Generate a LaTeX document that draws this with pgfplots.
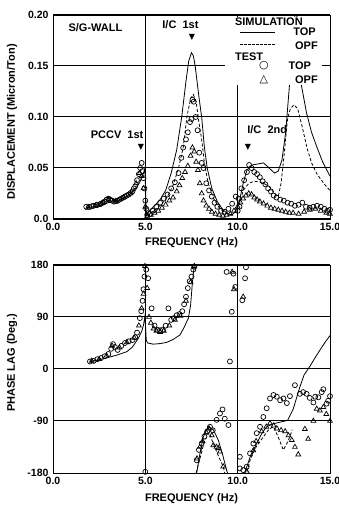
\documentclass[border=0pt]{standalone}
\usepackage{fontspec}
\setmainfont{Liberation Sans}
\newfontfamily\symfont{DejaVu Sans}
\usepackage{pgfplots}
\pgfplotsset{compat=1.18}
\pgfplotsset{
  common/.style={
    scale only axis, width=277pt, xmin=0, xmax=15,
    xtick={0,5,10,15}, xticklabels={0.0,5.0,10.0,15.0},
    grid=major, major grid style={black, line width=1.0pt},
    axis line style={line width=0.9pt},
    major tick length=0pt,
    tick label style={font=\fontsize{10.5}{12}\selectfont\bfseries},
    label style={font=\fontsize{11}{13}\selectfont\bfseries},
    /pgf/number format/assume math mode=true,
    xticklabel style={yshift=-1pt},
    yticklabel style={xshift=-1pt},
  },
  tmark/.style={only marks, mark=o, mark size=2.5pt, mark options={line width=0.7pt, draw=black}},
  omark/.style={only marks, mark=triangle, mark size=2.8pt, mark options={line width=0.7pt, draw=black}},
  sims/.style={black, line width=0.8pt, no marks},
  simd/.style={black, line width=0.8pt, dashed, dash pattern=on 3pt off 2pt, no marks},
}
\begin{document}
\begin{tikzpicture}
\useasboundingbox (0,0) rectangle (339pt,508pt);
% ---------------- displacement ----------------
\begin{axis}[common, at={(53pt,289pt)}, anchor=south west, height=204pt,
  ymin=0, ymax=0.2, ytick={0,0.05,0.10,0.15,0.20},
  yticklabels={0.0,0.05,0.10,0.15,0.20},
  xlabel={FREQUENCY (Hz)}, ylabel={DISPLACEMENT (Micron/Ton)},
  xlabel style={at={(axis description cs:0.5,0)}, anchor=center, yshift=-24pt},
  ylabel style={at={(axis description cs:-0.148,0.475)}, anchor=center},
]
\addplot[sims] coordinates {
(1.8,0.011)(2.5,0.013)(3.0,0.016)(3.5,0.018)(4.0,0.022)(4.4,0.028)(4.7,0.036)(4.9,0.045)(4.98,0.05)
(5.05,0.004)(5.2,0.008)(5.5,0.013)(5.8,0.019)(6.1,0.028)(6.4,0.045)(6.7,0.068)(6.97,0.10)(7.2,0.135)
(7.35,0.155)(7.5,0.163)(7.6,0.16)(7.7,0.15)(7.9,0.12)(8.05,0.10)(8.2,0.07)(8.35,0.05)(8.6,0.03)
(8.9,0.017)(9.2,0.009)(9.5,0.005)(9.7,0.004)(9.9,0.008)(10.1,0.018)(10.3,0.035)(10.5,0.048)
(10.8,0.053)(11.1,0.054)(11.4,0.055)(11.7,0.05)(12.0,0.045)(12.2,0.047)(12.4,0.058)(12.6,0.085)
(12.8,0.13)(13.0,0.18)(13.15,0.21)(13.3,0.18)(13.4,0.136)(13.73,0.104)(14.0,0.085)(14.28,0.071)
(14.6,0.056)(15.0,0.042)};
\addplot[simd] coordinates {
(5.05,0.003)(5.3,0.006)(5.6,0.01)(5.9,0.015)(6.2,0.022)(6.5,0.033)(6.8,0.05)(7.05,0.07)(7.25,0.1)
(7.45,0.118)(7.6,0.122)(7.75,0.115)(7.9,0.095)(8.05,0.078)(8.2,0.055)(8.4,0.035)(8.7,0.02)(9.0,0.011)
(9.3,0.006)(9.6,0.004)(9.9,0.007)(10.1,0.015)(10.3,0.028)(10.6,0.035)(10.9,0.037)(11.3,0.036)
(11.7,0.032)(12.0,0.025)(12.2,0.022)(12.35,0.035)(12.5,0.06)(12.7,0.098)(12.85,0.108)(13.05,0.112)
(13.25,0.108)(13.5,0.09)(13.75,0.07)(14.0,0.055)(14.3,0.044)(14.7,0.034)(15.0,0.028)};
\addplot[tmark] coordinates {
(1.8,0.012)(1.95,0.012)(2.1,0.0125)(2.2,0.013)(2.35,0.0135)(2.4,0.014)(2.55,0.0145)(2.6,0.015)(2.7,0.016)(2.8,0.017)(2.9,0.019)(3.0,0.02)(3.1,0.019)(3.2,0.018)(3.3,0.017)
(3.4,0.0175)(3.5,0.018)(3.6,0.019)(3.7,0.02)(3.8,0.021)(3.9,0.022)(4.0,0.023)(4.1,0.024)(4.2,0.0255)(4.3,0.027)(4.38,0.03)(4.45,0.032)(4.55,0.038)(4.65,0.044)(4.72,0.05)
(4.8,0.055)(4.85,0.047)(4.9,0.04)(4.95,0.03)(5.0,0.018)(5.05,0.01)(5.1,0.004)(5.25,0.005)(5.4,0.008)
(5.6,0.012)(5.8,0.016)(6.0,0.02)(6.2,0.024)(6.4,0.03)(6.6,0.036)(6.8,0.045)(6.95,0.06)(7.05,0.07)
(7.2,0.078)(7.3,0.085)(7.42,0.095)(7.5,0.098)(7.55,0.117)(7.62,0.115)(7.72,0.1)(7.83,0.087)
(7.92,0.065)(8.05,0.055)(8.15,0.05)(8.3,0.035)(8.45,0.028)(8.6,0.022)(8.75,0.016)(8.9,0.012)
(9.1,0.008)(9.3,0.007)(9.5,0.01)(9.7,0.015)(9.9,0.022)(10.0,0.008)(10.1,0.012)(10.05,0.02)(10.2,0.03)
(10.35,0.038)(10.5,0.046)(10.62,0.053)(10.75,0.05)(10.9,0.046)(11.05,0.044)(11.2,0.041)(11.35,0.037)
(11.5,0.034)(11.65,0.03)(11.8,0.027)(11.95,0.023)(12.1,0.021)(12.3,0.019)(12.5,0.018)(12.7,0.016)
(12.9,0.015)(13.1,0.013)(13.3,0.014)(13.5,0.016)(13.7,0.012)(13.9,0.011)(14.1,0.012)(14.3,0.013)
(14.5,0.012)(14.7,0.01)(14.85,0.008)(15.0,0.009)};
\addplot[omark] coordinates {
(1.9,0.011)(2.3,0.013)(2.7,0.016)(3.0,0.019)(3.4,0.017)(3.8,0.021)(4.2,0.025)(4.5,0.035)(4.7,0.045)
(4.8,0.042)(4.9,0.03)(5.0,0.012)(5.1,0.003)(5.3,0.004)(5.5,0.006)(5.7,0.008)(5.9,0.011)(6.1,0.014)
(6.3,0.018)(6.5,0.021)(6.7,0.027)(6.85,0.033)(7.0,0.04)(7.15,0.046)(7.3,0.052)(7.45,0.062)(7.55,0.07)
(7.65,0.066)(7.75,0.056)(7.85,0.048)(7.95,0.035)(8.05,0.025)(8.15,0.018)(8.3,0.013)(8.45,0.01)
(8.6,0.007)(8.8,0.005)(9.0,0.004)(9.2,0.003)(9.4,0.004)(9.6,0.005)(9.8,0.008)(10.0,0.012)(10.15,0.016)
(10.3,0.02)(10.45,0.023)(10.6,0.025)(10.75,0.024)(10.9,0.021)(11.05,0.019)(11.2,0.017)(11.4,0.015)
(11.6,0.013)(11.8,0.011)(12.0,0.01)(12.2,0.009)(12.4,0.008)(12.6,0.007)(12.8,0.006)(13.0,0.006)
(13.3,0.005)(13.6,0.007)(13.9,0.009)(14.2,0.01)(14.5,0.008)(14.8,0.006)(15.0,0.005)};
% legend box
\fill[white] (axis cs:9.3,0.131) rectangle (axis cs:14.56,0.1985);
\begin{scope}[font=\fontsize{11}{13}\selectfont\bfseries]
\node[anchor=west, inner sep=0pt] at (axis cs:9.85,0.1935) {SIMULATION};
\draw[line width=0.8pt] (axis cs:10.12,0.183) -- (axis cs:12.02,0.183);
\node[anchor=west, inner sep=0pt] at (axis cs:13.0,0.184) {TOP};
\draw[line width=0.8pt, dash pattern=on 3pt off 1pt] (axis cs:10.12,0.1715) -- (axis cs:12.02,0.1715);
\node[anchor=west, inner sep=0pt] at (axis cs:13.1,0.17) {OPF};
\node[anchor=west, inner sep=0pt] at (axis cs:9.85,0.159) {TEST};
\node at (axis cs:11.42,0.150) {\symfont ○};
\node[anchor=west, inner sep=0pt] at (axis cs:12.75,0.150) {TOP};
\node at (axis cs:11.42,0.1365) {\symfont △};
\node[anchor=west, inner sep=0pt] at (axis cs:13.1,0.1365) {OPF};
\node at (axis cs:2.3,0.188) {S/G-WALL};
\node at (axis cs:6.9,0.191) {I/C\ \ 1st};
\node at (axis cs:7.53,0.178) {\symfont\fontsize{8}{9}\selectfont ▼};
\node at (axis cs:3.47,0.0826) {PCCV\ \ 1st};
\node at (axis cs:4.76,0.070) {\symfont\fontsize{8}{9}\selectfont ▼};
\node at (axis cs:11.6,0.0874) {I/C\ \ 2nd};
\node at (axis cs:10.56,0.070) {\symfont\fontsize{8}{9}\selectfont ▼};
\end{scope}
\end{axis}
% ---------------- phase ----------------
\begin{axis}[common, at={(53pt,35pt)}, anchor=south west, height=208pt,
  ymin=-180, ymax=180, ytick={-180,-90,0,90,180},
  yticklabels={-180,-90,0,90,180},
  xlabel={FREQUENCY (Hz)}, ylabel={PHASE LAG (Deg.)},
  xlabel style={at={(axis description cs:0.5,0)}, anchor=center, yshift=-26pt},
  ylabel style={at={(axis description cs:-0.148,0.53)}, anchor=center},
]
\addplot[sims] coordinates {
(2.0,13)(2.5,16)(3.0,20)(3.45,24)(4.0,30)(4.3,38)(4.62,53)(4.8,65)(4.9,76)(4.98,92)(5.05,50)(5.12,45)
(5.43,43)(5.8,44)(6.15,46)(6.5,51)(6.88,59)(7.1,72)(7.33,88)(7.45,110)(7.55,150)(7.65,180)};
\addplot[sims] coordinates {
(7.78,-180)(7.96,-146)(8.14,-117)(8.41,-100)(8.68,-105)(8.95,-123)(9.2,-150)(9.4,-175)(9.45,-180)};
\addplot[sims] coordinates {
(10.38,-180)(10.7,-150)(11.03,-129)(11.3,-112)(11.57,-100)(11.9,-95)(12.3,-92)(12.7,-89)(13.0,-70)
(13.37,-31)(13.6,-10)(13.9,4)(14.2,20)(14.46,33)(14.75,47)(15,58)};
\addplot[simd] coordinates {
(7.75,-180)(8.0,-150)(8.2,-125)(8.45,-110)(8.68,-129)(8.95,-150)(9.22,-169)(9.3,-180)};
\addplot[simd] coordinates {
(10.5,-178)(10.67,-158)(11.0,-135)(11.4,-117)(11.7,-104)(11.94,-100)(12.2,-118)(12.47,-140)
(12.65,-130)(12.83,-117)(12.95,-105)};
\addplot[tmark] coordinates {
(2.0,13)(2.2,14)(2.4,17)(2.6,19)(2.8,22)(3.0,26)(3.15,35)(3.25,43)(3.35,38)(3.5,33)(3.7,40)(3.9,45)
(4.1,48)(4.3,50)(4.45,55)(4.55,63)(4.7,88)(4.78,100)(4.85,118)(4.9,138)(4.95,160)(5.0,-178)(5.05,172)
(5.15,157)(5.34,105)(5.5,75)(5.65,68)(5.8,67)(5.95,68)(6.1,75)(6.25,105)(6.4,85)(6.55,88)(6.7,93)
(6.85,95)(7.0,100)(7.1,112)(7.2,125)(7.3,140)(7.4,152)(7.5,160)(7.6,172)(7.65,177)(7.78,-158)
(7.9,-140)(8.05,-129)(8.2,-117)(8.35,-108)(8.5,-100)(8.65,-106)(8.86,-88)(9.04,-77)(9.18,-70)
(9.3,-86)(9.5,-97)(9.4,168)(9.58,13)(9.68,99)(9.77,165)(9.87,142)(10.12,-152)(10.12,-172)(10.3,-175)
(10.4,157)(10.25,119)(10.45,176)(10.49,-169)(10.67,-146)(10.85,-129)(11.03,-111)(11.21,-100)
(11.39,-83)(11.57,-68)(11.75,-51)(11.94,-45)(12.12,-48)(12.3,-54)(12.48,-51)(12.66,-59)(12.83,-47)
(13.1,-28)(13.37,-43)(13.55,-40)(13.73,-43)(13.9,-50)(14.1,-58)(14.2,-48)(14.37,-49)(14.55,-40)
(14.64,-35)(14.82,-60)(14.9,-55)(15.0,-47)};
\addplot[omark] coordinates {
(2.1,14)(2.5,17)(2.9,23)(3.2,40)(3.6,37)(4.0,46)(4.4,54)(4.65,75)(4.8,105)(4.9,130)(4.98,178)
(5.1,140)(5.2,90)(5.3,80)(5.45,70)(5.6,66)(5.8,64)(6.0,66)(6.3,75)(6.6,85)(6.9,92)(7.2,118)(7.45,150)
(7.65,178)(7.8,-155)(7.95,-135)(8.1,-125)(8.3,-110)(8.45,-103)(8.6,-115)(8.68,-132)(8.85,-135)
(8.95,-137)(9.04,-143)(9.22,-169)(9.7,168)(9.8,138)(10.3,125)(10.5,-178)(10.85,-141)
(11.0,-125)(11.3,-108)(11.55,-100)(11.75,-94)(11.95,-98)(12.12,-103)(12.35,-106)(12.57,-108)
(12.75,-115)(12.93,-123)(13.1,-135)(13.28,-148)(13.64,-104)(13.82,-121)(14.1,-90)(14.28,-69)
(14.45,-72)(14.64,-66)(14.8,-78)(15.0,-90)};
\end{axis}
\end{tikzpicture}
\end{document}
